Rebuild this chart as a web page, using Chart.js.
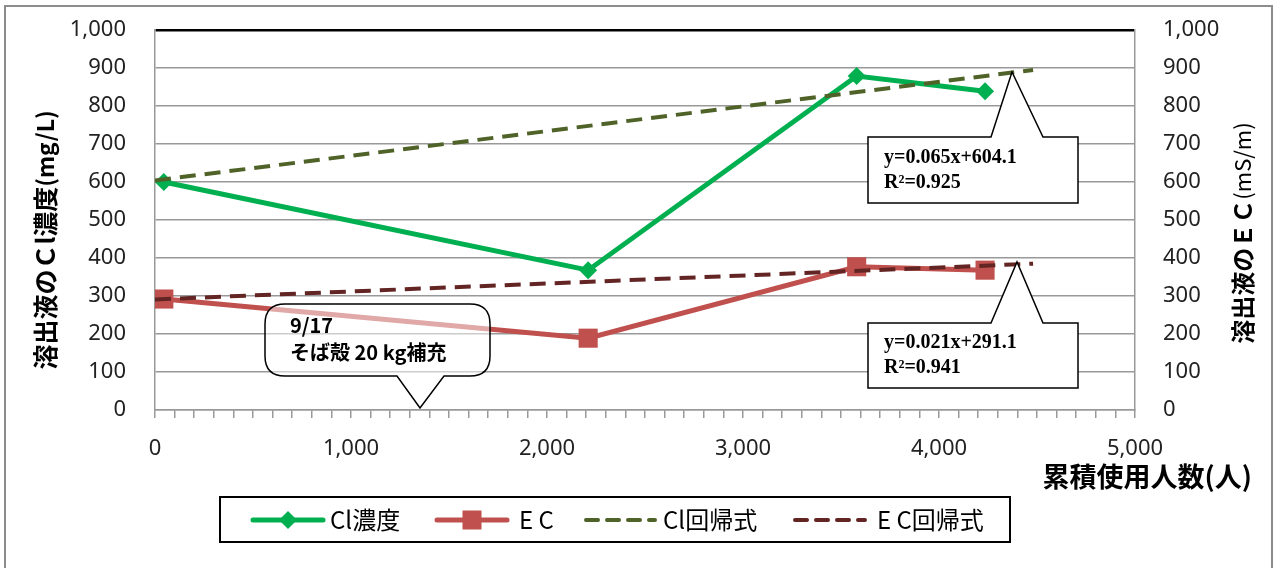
<!DOCTYPE html>
<html>
<head>
<meta charset="utf-8">
<script src="https://cdn.jsdelivr.net/npm/chart.js@4"></script>
<style>
  html, body { margin: 0; padding: 0; background: #fff; }
  #wrap { width: 1277px; height: 568px; }
</style>
</head>
<body>
<div id="wrap"><canvas id="chart" width="1277" height="568"></canvas></div>
<script>
// 累積使用人数 (x) and measured values
const usersX = [45, 2210, 3580, 4235];
const clValues = [600, 368, 879, 839];   // Cl濃度 (mg/L)
const ecValues = [292, 189, 377, 368];   // EC (mS/m)

// trend lines, read as end points off the picture
const trendX = [0, 4480];
const clTrend = [604, 895];
const ecTrend = [291, 385];

const xTickLabels = ['0', '1,000', '2,000', '3,000', '4,000', '5,000'];
const yTickLabels = ['0', '100', '200', '300', '400', '500', '600', '700', '800', '900', '1,000'];

const legendNames = ['Cl濃度', 'E C', 'Cl回帰式', 'E C回帰式'];

const GREEN = '#00b050';
const RED = '#c0504d';
const OLIVE = '#4f6228';
const MAROON = '#632523';

const NUM_FONT = '"Noto Sans", "Open Sans", sans-serif';
const JP_FONT = '"Noto Sans CJK JP", "Noto Sans", sans-serif';
const EQ_FONT = '"Liberation Serif", "DejaVu Serif", serif';

function pts(xs, ys) {
  return xs.map((x, i) => ({ x: x, y: ys[i] }));
}

const data = {
  datasets: [
    {
      label: legendNames[2],
      data: pts(trendX, clTrend),
      borderColor: OLIVE,
      borderWidth: 4,
      borderDash: [16, 9],
      pointRadius: 0,
      yAxisID: 'y'
    },
    {
      label: legendNames[3],
      data: pts(trendX, ecTrend),
      borderColor: MAROON,
      borderWidth: 4,
      borderDash: [16, 9],
      pointRadius: 0,
      yAxisID: 'y1'
    },
    {
      label: legendNames[0],
      data: pts(usersX, clValues),
      borderColor: GREEN,
      backgroundColor: GREEN,
      borderWidth: 5,
      pointStyle: 'rectRot',
      pointRadius: 9,
      pointBorderWidth: 0,
      yAxisID: 'y'
    },
    {
      label: legendNames[1],
      data: pts(usersX, ecValues),
      borderColor: RED,
      backgroundColor: RED,
      borderWidth: 5,
      pointStyle: 'rect',
      pointRadius: 13.5,
      pointBorderWidth: 0,
      yAxisID: 'y1'
    }
  ]
};

// draws a callout with a pointer coming out of the box
function callout(ctx, box, ptr, radius, fill) {
  const { l, r, t, b } = box;
  ctx.beginPath();
  const rad = radius || 0;
  ctx.moveTo(l + rad, t);
  if (ptr.side === 'top') {
    ctx.lineTo(ptr.a, t);
    ctx.lineTo(ptr.tx, ptr.ty);
    ctx.lineTo(ptr.b, t);
  }
  ctx.lineTo(r - rad, t);
  if (rad) ctx.quadraticCurveTo(r, t, r, t + rad);
  ctx.lineTo(r, b - rad);
  if (rad) ctx.quadraticCurveTo(r, b, r - rad, b);
  if (ptr.side === 'bottom') {
    ctx.lineTo(ptr.b, b);
    ctx.lineTo(ptr.tx, ptr.ty);
    ctx.lineTo(ptr.a, b);
  }
  ctx.lineTo(l + rad, b);
  if (rad) ctx.quadraticCurveTo(l, b, l, b - rad);
  ctx.lineTo(l, t + rad);
  if (rad) ctx.quadraticCurveTo(l, t, l + rad, t);
  ctx.closePath();
  ctx.fillStyle = fill;
  ctx.fill();
  ctx.strokeStyle = '#000';
  ctx.lineWidth = 1.5;
  ctx.stroke();
}

// vertical text, pieces = [[text, font], ...], centred at cx, cy
function vText(ctx, pieces, cx, cy) {
  ctx.save();
  ctx.translate(cx, cy);
  ctx.rotate(-Math.PI / 2);
  let total = 0;
  pieces.forEach(p => { ctx.font = p[1]; total += ctx.measureText(p[0]).width; });
  let x = -total / 2;
  ctx.textBaseline = 'middle';
  ctx.textAlign = 'left';
  ctx.fillStyle = '#000';
  pieces.forEach(p => {
    ctx.font = p[1];
    ctx.fillText(p[0], x, 0);
    x += ctx.measureText(p[0]).width;
  });
  ctx.restore();
}

// keep the plot box where the reference has it
function fixY(width) {
  return function(scale) {
    scale.width = width;
    scale.paddingTop = 0;
    scale.paddingBottom = 0;
  };
}

const decor = {
  id: 'decor',
  afterDatasetsDraw(chart) {
    const ctx = chart.ctx;
    ctx.save();
    // note balloon
    callout(ctx, { l: 265, r: 490, t: 304, b: 376 },
      { side: 'bottom', a: 397, b: 444, tx: 420, ty: 408 }, 20, 'rgba(255,255,255,0.5)');
    ctx.fillStyle = '#000';
    ctx.textBaseline = 'middle';
    ctx.textAlign = 'left';
    ctx.font = 'bold 20px ' + JP_FONT;
    ctx.fillText('9/17', 290, 325);
    ctx.fillText('そば殻 20 kg補充', 290, 352);

    // regression equations
    callout(ctx, { l: 868, r: 1078, t: 137, b: 203 },
      { side: 'top', a: 991, b: 1043, tx: 1012, ty: 72 }, 0, '#fff');
    callout(ctx, { l: 868, r: 1078, t: 323, b: 388 },
      { side: 'top', a: 991, b: 1043, tx: 1017, ty: 262 }, 0, '#fff');
    ctx.fillStyle = '#000';
    ctx.font = 'bold 20px ' + EQ_FONT;
    ctx.fillText('y=0.065x+604.1', 884, 158);
    ctx.fillText('R²=0.925', 884, 183);
    ctx.fillText('y=0.021x+291.1', 884, 343);
    ctx.fillText('R²=0.941', 884, 368);
    ctx.restore();
  },
  afterDraw(chart) {
    const ctx = chart.ctx;
    ctx.save();
    // outer frame
    ctx.strokeStyle = '#8c8c8c';
    ctx.lineWidth = 2;
    ctx.strokeRect(5, 6, 1267, 570);

    // axis titles
    vText(ctx, [['溶出液のＣl濃度', 'bold 25px ' + JP_FONT], ['(mg/L)', 'bold 23px ' + JP_FONT]], 45, 240);
    vText(ctx, [['溶出液のＥＣ', 'bold 24px ' + JP_FONT], ['(mS/m)', '22px ' + JP_FONT]], 1243, 233);
    ctx.fillStyle = '#000';
    ctx.font = 'bold 27px ' + JP_FONT;
    ctx.textAlign = 'right';
    ctx.textBaseline = 'middle';
    ctx.fillText('累積使用人数(人)', 1252, 477);

    // legend
    ctx.fillStyle = '#fff';
    ctx.fillRect(220, 497, 790, 45);
    ctx.strokeStyle = '#000';
    ctx.lineWidth = 2;
    ctx.strokeRect(220, 497, 790, 45);
    const ly = 520;
    const items = [
      { x0: 253, x1: 323, tx: 330, color: GREEN, dash: [], w: 5, mark: 'diamond' },
      { x0: 437, x1: 507, tx: 519, color: RED, dash: [], w: 5, mark: 'square' },
      { x0: 586, x1: 655, tx: 663, color: OLIVE, dash: [12, 9], w: 4, mark: null },
      { x0: 795, x1: 865, tx: 877, color: MAROON, dash: [12, 9], w: 4, mark: null }
    ];
    items.forEach((it, i) => {
      ctx.save();
      ctx.strokeStyle = it.color;
      ctx.lineWidth = it.w;
      ctx.lineCap = 'round';
      ctx.setLineDash(it.dash);
      ctx.beginPath();
      ctx.moveTo(it.x0, ly);
      ctx.lineTo(it.x1, ly);
      ctx.stroke();
      ctx.restore();
      const cx = (it.x0 + it.x1) / 2;
      ctx.fillStyle = it.color;
      if (it.mark === 'diamond') {
        ctx.beginPath();
        ctx.moveTo(cx - 9, ly);
        ctx.lineTo(cx, ly - 9);
        ctx.lineTo(cx + 9, ly);
        ctx.lineTo(cx, ly + 9);
        ctx.closePath();
        ctx.fill();
      } else if (it.mark === 'square') {
        ctx.fillRect(cx - 9.5, ly - 9.5, 19, 19);
      }
      ctx.fillStyle = '#000';
      ctx.font = '24px ' + JP_FONT;
      ctx.textAlign = 'left';
      ctx.textBaseline = 'middle';
      ctx.fillText(legendNames[i], it.tx, ly);
    });
    ctx.restore();
  }
};

const config = {
  type: 'line',
  data: data,
  options: {
    responsive: false,
    animation: false,
    layout: { padding: { top: 30, left: 0, right: 0, bottom: 0 } },
    plugins: {
      legend: { display: false },
      tooltip: { enabled: false }
    },
    elements: { line: { tension: 0 } },
    scales: {
      x: {
        type: 'linear',
        min: 0,
        max: 5000,
        afterFit: function(scale) { scale.height = 158; },
        afterBuildTicks: function(scale) {
          const t = [];
          for (let v = 0; v <= 5000; v += 100) t.push({ value: v });
          scale.ticks = t;
        },
        grid: {
          drawOnChartArea: false,
          drawTicks: true,
          tickLength: 8,
          color: '#999',
          lineWidth: 1.5
        },
        border: { display: true, color: '#999', width: 1.5 },
        ticks: {
          autoSkip: false,
          maxRotation: 0,
          padding: 18,
          color: '#222',
          font: { family: NUM_FONT, size: 22 },
          callback: function(value) {
            return value % 1000 === 0 ? xTickLabels[value / 1000] : '';
          }
        }
      },
      y: {
        position: 'left',
        min: 0,
        max: 1000,
        afterFit: fixY(155),
        grid: {
          drawTicks: false,
          color: function(c) { return c.tick && c.tick.value === 1000 ? '#000' : '#999'; },
          lineWidth: function(c) { return c.tick && c.tick.value === 1000 ? 2.5 : 1.5; }
        },
        border: { display: true, color: '#999', width: 1.5 },
        ticks: {
          stepSize: 100,
          padding: 29,
          color: '#222',
          font: { family: NUM_FONT, size: 22 },
          callback: function(value) { return yTickLabels[value / 100]; }
        }
      },
      y1: {
        position: 'right',
        min: 0,
        max: 1000,
        afterFit: fixY(142),
        grid: { drawOnChartArea: false, drawTicks: false },
        border: { display: true, color: '#999', width: 1.5 },
        ticks: {
          stepSize: 100,
          padding: 28,
          color: '#222',
          font: { family: NUM_FONT, size: 22 },
          callback: function(value) { return yTickLabels[value / 100]; }
        }
      }
    }
  },
  plugins: [decor]
};

var ctx = document.getElementById('chart').getContext('2d');
var chart = new Chart(ctx, config);
</script>
</body>
</html>
